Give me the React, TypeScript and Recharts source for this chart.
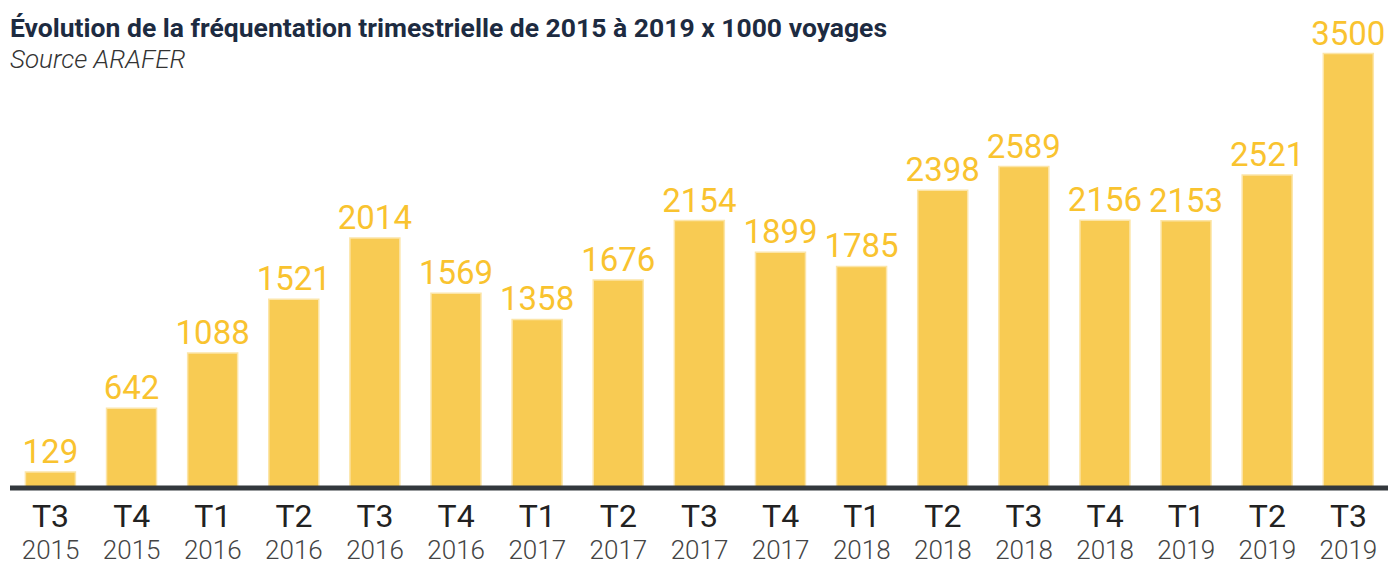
import React from "react"
import { Bar, BarChart, LabelList, XAxis, YAxis } from "recharts"

const quarters = ["T3", "T4", "T1", "T2", "T3", "T4", "T1", "T2", "T3", "T4", "T1", "T2", "T3", "T4", "T1", "T2", "T3"]
const years = ["2015", "2015", "2016", "2016", "2016", "2016", "2017", "2017", "2017", "2017", "2018", "2018", "2018", "2018", "2019", "2019", "2019"]
const voyages = [129, 642, 1088, 1521, 2014, 1569, 1358, 1676, 2154, 1899, 1785, 2398, 2589, 2156, 2153, 2521, 3500]

const data = voyages.map((value, i) => ({
  key: `${quarters[i]}-${years[i]}`,
  quarter: quarters[i],
  year: years[i],
  value,
}))

const QuarterTick = (props: any) => {
  const { x, y, payload } = props
  const row = data[payload.index] ?? data.find((d) => d.key === payload.value)
  return (
    <g transform={`translate(${x},${y})`}>
      <text x={0} y={31} textAnchor="middle" fontSize={32} fill="#222" fontFamily="Roboto">
        {row?.quarter}
      </text>
      <text x={0} y={63} textAnchor="middle" fontSize={26} fill="#444" fontWeight={300} fontFamily="Roboto">
        {row?.year}
      </text>
    </g>
  )
}

export default function App() {
  return (
    <div style={{ position: "absolute", left: 0, top: 0, width: 1388, height: 565, background: "#fff", fontFamily: "Roboto" }}>
      <div style={{ position: "absolute", left: 10, top: 13, fontSize: 26.5, lineHeight: "30px", fontWeight: 700, color: "#1d2b41", whiteSpace: "nowrap" }}>
        Évolution de la fréquentation trimestrielle de 2015 à 2019 x 1000 voyages
      </div>
      <div style={{ position: "absolute", left: 10, top: 44, fontSize: 26, lineHeight: "30px", fontStyle: "italic", fontWeight: 300, color: "#333", whiteSpace: "nowrap" }}>
        Source ARAFER
      </div>
      <BarChart
        width={1388}
        height={565}
        data={data}
        margin={{ top: 53.5, right: -1, left: 10, bottom: 0 }}
        barCategoryGap="19%"
      >
        <XAxis
          dataKey="key"
          height={77}
          interval={0}
          tickLine={false}
          axisLine={{ stroke: "#33383d", strokeWidth: 5 }}
          tick={<QuarterTick />}
        />
        <YAxis hide domain={[0, 3500]} />
        <Bar dataKey="value" fill="#F8CB53" stroke="#FCE5A8" strokeWidth={1.5} isAnimationActive={false}>
          <LabelList dataKey="value" position="top" offset={9} fill="#F9C32F" fontSize={33} fontFamily="Roboto" />
        </Bar>
      </BarChart>
    </div>
  )
}
